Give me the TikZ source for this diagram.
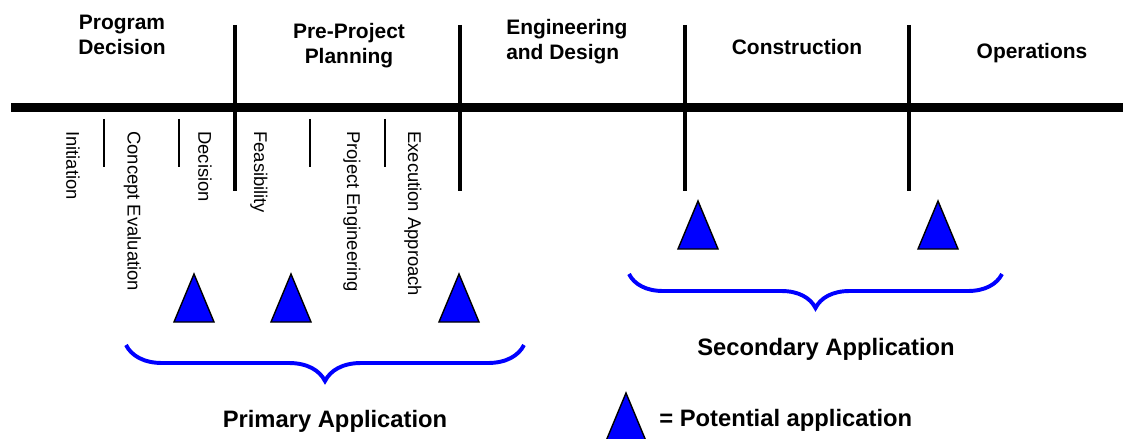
\documentclass[tikz,border=0pt]{standalone}
\usepackage{fontspec}
\setmainfont{Liberation Sans}
\usetikzlibrary{decorations.pathreplacing}

\begin{document}
\begin{tikzpicture}[
      x=0.025cm, y=-0.025cm,
      phase/.style={font=\bfseries\fontsize{14.9}{17.8}\selectfont, align=center, anchor=north, inner sep=0pt},
      substep/.style={font=\fontsize{13.1}{15.7}\selectfont, rotate=-90, anchor=west, inner sep=0pt},
      caption/.style={font=\bfseries\fontsize{16.9}{20}\selectfont, anchor=north, inner sep=0pt},
      mainline/.style={line width=5.9pt},
      divider/.style={line width=2.8pt},
      subdivider/.style={line width=1.8pt},
      apptri/.style={draw=black, line width=1pt, fill=blue},
      appbrace/.style={draw=blue, line width=2.8pt, decorate, decoration={brace, mirror, amplitude=#1}}
      ]
      \useasboundingbox (0,0) rectangle (1123,439);

      % Time line
      \coordinate (lstart) at (11,107.5);
      \coordinate (lend) at (1126,107.5);
      \draw[mainline] (lstart) -- (lend);
      \foreach \dx in {235,460,685,909}
         \draw[divider] (\dx,25) -- (\dx,191);
      \foreach \sx in {104,179,310,385}
         \draw[subdivider] (\sx,119) -- (\sx,167);

      % Phases
      \node[phase] (progdec) at (122,15) {Program\\Decision};
      \node[phase] (preproj) at (349,23) {Pre-Project\\Planning};
      \node[phase, align=left, anchor=north west] (engdes) at (506,19) {Engineering\\and Design};
      \node[phase] (constr) at (797,39) {Construction};
      \node[phase] (oper) at (1032,43) {Operations};

      % Steps of the first two phases
      \node[substep] (init) at (73,131) {Initiation};
      \node[substep] (concept) at (132.5,131) {Concept Evaluation};
      \node[substep] (decis) at (205,131) {Decision};
      \node[substep] (feas) at (259,131) {Feasibility};
      \node[substep] (projeng) at (352,131) {Project Engineering};
      \node[substep] (execapp) at (413,131) {Execution Approach};

      % Potential applications
      \foreach \tx/\ty in {194/322, 291/322, 459/322, 698/249, 938/249, 626/441}
         \draw[apptri] (\tx-20,\ty) -- (\tx,\ty-48) -- (\tx+20,\ty) -- cycle;

      % Braces and labels
      \coordinate (pbl) at (126,345);
      \coordinate (pbr) at (524,345);
      \draw[appbrace=0.9cm] (pbl) -- (pbr);
      \coordinate (sbl) at (629,274);
      \coordinate (sbr) at (1002,274);
      \draw[appbrace=0.85cm] (sbl) -- (sbr);

      \node[caption] (secondary) at (826,338) {Secondary Application};
      \node[caption] (primary) at (335,410) {Primary Application};
      \node[caption, anchor=north west] (potential) at (659,409) {= Potential application};

   \end{tikzpicture}
\end{document}
